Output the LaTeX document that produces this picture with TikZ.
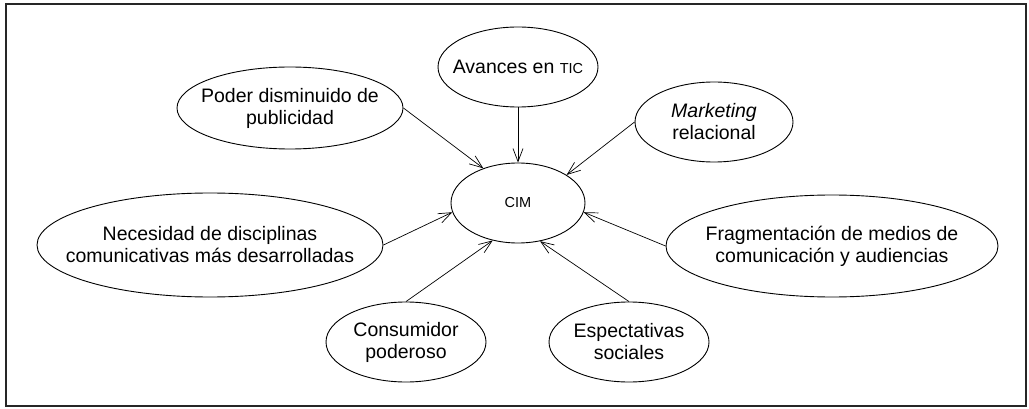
\documentclass[tikz,border=0pt]{standalone}
\usepackage{fontspec}
\setmainfont{Liberation Sans}
\usetikzlibrary{shapes.geometric,arrows.meta}
\begin{document}
\begin{tikzpicture}[x=1pt,y=-1pt,
    bubble/.style={draw, ellipse, inner sep=0pt, line width=0.9pt},
    txt/.style={align=center, font=\fontsize{19.5}{22}\selectfont},
    feed/.style={-{Straight Barb[length=13pt,width=10pt]}, line width=0.7pt}]
    \newcommand{\sigla}[1]{{\fontsize{14.5}{16}\selectfont #1}}
    \useasboundingbox (0,0) rectangle (1029,409);
    \draw[line width=1.6pt, black!85] (6,4) rectangle (1026,406);
    % the ellipses
    \node[bubble, minimum width=134pt, minimum height=80pt] (cim) at (518,203) {};
    \node[bubble, minimum width=160pt, minimum height=80pt] (tic) at (518,67) {};
    \node[bubble, minimum width=226pt, minimum height=82pt] (poder) at (290,108) {};
    \node[bubble, minimum width=158pt, minimum height=80pt] (mkt) at (714,122) {};
    \node[bubble, minimum width=346pt, minimum height=104pt] (nec) at (210,245) {};
    \node[bubble, minimum width=332pt, minimum height=102pt] (frag) at (832,246) {};
    \node[bubble, minimum width=160pt, minimum height=80pt] (cons) at (406,342) {};
    \node[bubble, minimum width=160pt, minimum height=80pt] (esp) at (629,342) {};
    % the texts
    \node[txt] (cimtext) at (cim) {\sigla{CIM}};
    \node[txt] (tictext) at (tic) {Avances en \sigla{TIC}};
    \node[txt] (podertext) at (poder) {Poder disminuido de\\publicidad};
    \node[txt] (mkttext) at (mkt) {\textit{Marketing}\\relacional};
    \node[txt] (nectext) at (nec) {Necesidad de disciplinas\\comunicativas más desarrolladas};
    \node[txt] (fragtext) at (frag) {Fragmentación de medios de\\comunicación y audiencias};
    \node[txt] (constext) at (cons) {Consumidor\\poderoso};
    \node[txt] (esptext) at (esp) {Espectativas\\sociales};
    % arrows into CIM
    \draw[feed] (poder.east) -- (cim.135);
    \draw[feed] (tic.south) -- (cim.north);
    \draw[feed] (mkt.west) -- (cim.30);
    \draw[feed] (nec.east) -- (cim.188);
    \draw[feed] (frag.west) -- (cim.352);
    \draw[feed] (cons.north) -- (cim.236);
    \draw[feed] (esp.north) -- (cim.300);
\end{tikzpicture}
\end{document}
